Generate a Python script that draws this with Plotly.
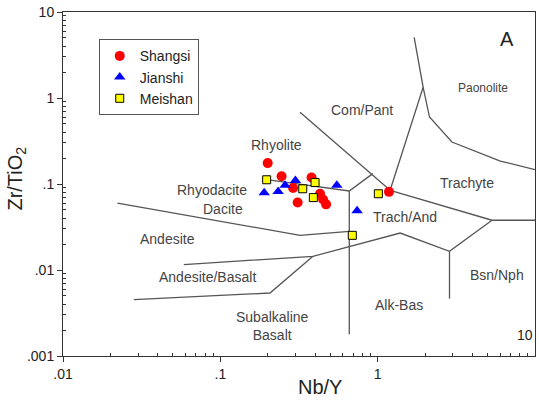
import numpy as np
import plotly.graph_objects as go

# ---------------- data ----------------
shangsi_x = [0.20, 0.245, 0.38, 0.29, 0.43, 0.45, 0.47, 0.31, 1.18]
shangsi_y = [0.175, 0.123, 0.119, 0.090, 0.077, 0.066, 0.058, 0.061, 0.081]

jianshi_x = [0.19, 0.233, 0.258, 0.30, 0.55, 0.74]
jianshi_y = [0.079, 0.082, 0.097, 0.110, 0.097, 0.049]

meishan_x = [0.197, 0.334, 0.40, 0.39, 0.69, 1.01]
meishan_y = [0.112, 0.088, 0.104, 0.0695, 0.0253, 0.077]

# field boundaries (Nb/Y, Zr/TiO2)
boundaries = {
    "andesite_upper": [(0.0222, 0.0601), (0.321, 0.0253), (0.66, 0.0282)],
    "vertical_trachand": [(0.66, 0.0829), (0.66, 0.00179)],
    "rhyolite_lower": [(0.197, 0.1125), (0.66, 0.0829), (0.931, 0.132)],
    "compant_left": [(0.321, 0.683), (1.2, 0.0845)],
    "compant_right": [(1.2, 0.0845), (1.946, 1.331), (1.706, 5.08)],
    "paonolite_lower": [(1.946, 1.331), (2.135, 0.601), (2.964, 0.308), (6.02, 0.185), (10.0, 0.147)],
    "trachyte_lower": [(1.2, 0.0845), (5.33, 0.0379), (10.0, 0.0379)],
    "andbas_upper": [(0.0586, 0.01156), (0.388, 0.01443), (1.39, 0.0269), (2.861, 0.0165), (5.33, 0.0379)],
    "vertical_bsn": [(2.861, 0.0165), (2.861, 0.00465)],
    "subalk_upper": [(0.0282, 0.00453), (0.2068, 0.0054), (0.388, 0.01443)],
}

field_labels = [
    ("Rhyolite", 0.226, 0.282, 14),
    ("Rhyodacite", 0.0883, 0.0845, 14),
    ("Dacite", 0.104, 0.0518, 14),
    ("Andesite", 0.0462, 0.0232, 14),
    ("Andesite/Basalt", 0.083, 0.0083, 14),
    ("Subalkaline<br>Basalt", 0.213, 0.00221, 14),
    ("Trach/And", 1.495, 0.0413, 14),
    ("Bsn/Nph", 5.73, 0.00868, 14),
    ("Alk-Bas", 1.369, 0.00389, 14),
    ("Trachyte", 3.69, 0.1027, 14),
    ("Com/Pant", 0.793, 0.733, 14),
    ("Paonolite", 4.69, 1.297, 12),
]

x_tickvals = [0.01, 0.1, 1]
x_ticktext = [".01", ".1", "1"]
y_tickvals = [0.001, 0.01, 0.1, 1, 10]
y_ticktext = [".001", ".01", ".1", "1", "10"]

FONT = "Arial, Liberation Sans, sans-serif"

fig = go.Figure()

for name, pts in boundaries.items():
    xs = [p[0] for p in pts]
    ys = [p[1] for p in pts]
    fig.add_trace(go.Scatter(x=xs, y=ys, mode="lines",
                             line=dict(color="#555555", width=1.3),
                             showlegend=False, hoverinfo="skip"))

fig.add_trace(go.Scatter(x=shangsi_x, y=shangsi_y, mode="markers", name="Shangsi",
                         marker=dict(symbol="circle", size=10, color="#ff0000")))
fig.add_trace(go.Scatter(x=jianshi_x, y=jianshi_y, mode="markers", name="Jianshi",
                         marker=dict(symbol="triangle-up", size=10, color="#0000ff")))
fig.add_trace(go.Scatter(x=meishan_x, y=meishan_y, mode="markers", name="Meishan",
                         marker=dict(symbol="square", size=8, color="#ffff00",
                                     line=dict(color="#000000", width=1))))

annotations = []
for text, lx, ly, fs in field_labels:
    annotations.append(dict(x=np.log10(lx), y=np.log10(ly), xref="x", yref="y",
                            text=text, showarrow=False,
                            font=dict(family=FONT, size=fs, color="#444444")))

annotations.append(dict(x=np.log10(6.67), y=np.log10(4.81), xref="x", yref="y", text="A",
                        showarrow=False, font=dict(family=FONT, size=20, color="#222222")))
annotations.append(dict(x=1.0, y=0.06, xref="paper", yref="paper", text="10",
                        xanchor="right", yanchor="middle", showarrow=False,
                        font=dict(family=FONT, size=14, color="#222222")))
annotations.append(dict(x=(320 - 63.3) / 471.4, y=-0.09, xref="paper", yref="paper",
                        text="Nb/Y", showarrow=False, yanchor="middle",
                        font=dict(family=FONT, size=20, color="#222222")))
annotations.append(dict(x=-0.098, y=0.515, xref="paper", yref="paper",
                        text="Zr/TiO<sub>2</sub>", textangle=-90, showarrow=False,
                        xanchor="center", yanchor="middle",
                        font=dict(family=FONT, size=20, color="#222222")))

x_minor = [m * 10.0 ** e for e in range(-2, 1) for m in range(2, 10)]
y_minor = [m * 10.0 ** e for e in range(-3, 1) for m in range(2, 10)]

fig.update_layout(
    width=539, height=402,
    margin=dict(l=63, r=4, t=12, b=46),
    paper_bgcolor="white", plot_bgcolor="white",
    font=dict(family=FONT, size=14, color="#222222"),
    annotations=annotations,
    showlegend=True,
    legend=dict(x=(99 - 63.3) / 471.4, y=(355.7 - 39) / 344, xanchor="left", yanchor="top",
                bordercolor="#555555", borderwidth=1, bgcolor="white",
                font=dict(family=FONT, size=14, color="#222222"),
                itemsizing="trace", tracegroupgap=0),
    xaxis=dict(type="log", range=[-2, 1], showgrid=False, zeroline=False,
               showline=True, linecolor="#333333", linewidth=1, mirror=True,
               tickmode="array", tickvals=x_tickvals, ticktext=x_ticktext,
               ticks="outside", ticklen=5, tickcolor="#333333",
               tickfont=dict(family=FONT, size=14, color="#222222"),
               minor=dict(tickmode="array", tickvals=x_minor, ticks="inside",
                          ticklen=3, tickcolor="#333333", showgrid=False)),
    yaxis=dict(type="log", range=[-3, 1], showgrid=False, zeroline=False,
               showline=True, linecolor="#333333", linewidth=1, mirror=True,
               tickmode="array", tickvals=y_tickvals, ticktext=y_ticktext,
               ticks="outside", ticklen=5, tickcolor="#333333",
               tickfont=dict(family=FONT, size=14, color="#222222"),
               minor=dict(tickmode="array", tickvals=y_minor, ticks="inside",
                          ticklen=3, tickcolor="#333333", showgrid=False)),
)

fig.write_html("out.html")
